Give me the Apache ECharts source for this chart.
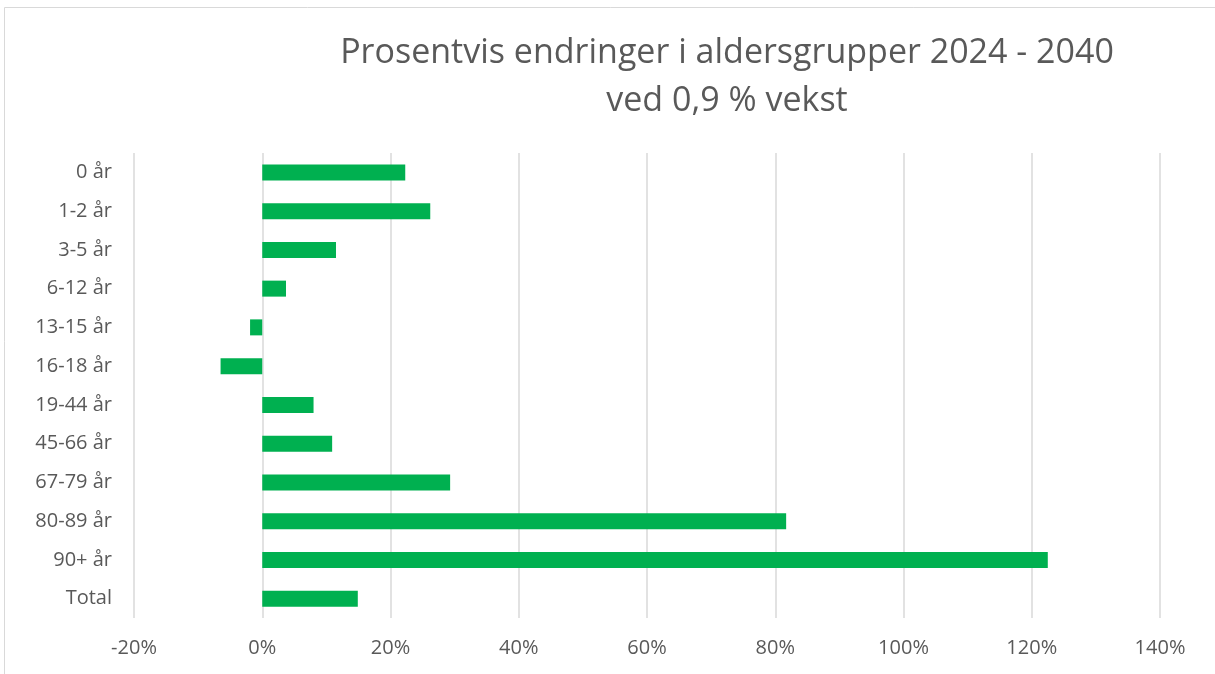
<!DOCTYPE html>
<html>
<head>
<meta charset="utf-8">
<script src="https://cdn.jsdelivr.net/npm/echarts@6/dist/echarts.min.js"></script>
<style>
html,body{margin:0;padding:0;background:#fff;}
#chart{width:1215px;height:674px;}
</style>
</head>
<body>
<div id="chart"></div>
<script>
const categories = ["0 år","1-2 år","3-5 år","6-12 år","13-15 år","16-18 år","19-44 år","45-66 år","67-79 år","80-89 år","90+ år","Total"];
const values = [22.3, 26.2, 11.5, 3.7, -1.9, -6.5, 8.0, 10.9, 29.3, 81.7, 122.5, 14.9];
const titleLines = ["Prosentvis endringer i aldersgrupper 2024 - 2040", "ved 0,9 % vekst"];

const chart = echarts.init(document.getElementById('chart'));
const font = "Open Sans, Noto Sans, sans-serif";
chart.setOption({
  animation: false,
  title: {
    text: titleLines.join("\n"),
    left: 722,
    top: 24,
    textAlign: 'center',
    textStyle: { fontFamily: font, fontSize: 34, fontWeight: 'normal', color: '#595959', lineHeight: 48 }
  },
  graphic: [{
    type: 'rect',
    shape: { x: 4.5, y: 7.5, width: 1300, height: 800 },
    style: { fill: 'none', stroke: '#d9d9d9', lineWidth: 1 },
    silent: true
  }],
  grid: { left: 134, right: 55, top: 153, bottom: 56, containLabel: false },
  xAxis: {
    type: 'value',
    min: -20, max: 140, interval: 20,
    axisLine: { show: false },
    axisTick: { show: false },
    splitLine: { show: true, lineStyle: { color: '#d9d9d9', width: 1.5 } },
    axisLabel: { formatter: '{value}%', color: '#595959', fontSize: 20, fontFamily: font, margin: 20 }
  },
  yAxis: {
    type: 'category',
    data: categories,
    inverse: true,
    axisLine: { show: false },
    axisTick: { show: false },
    axisLabel: { color: '#595959', fontSize: 20, fontFamily: font, margin: 22 }
  },
  series: [{
    type: 'bar',
    data: values,
    barWidth: 16,
    itemStyle: { color: '#00b050' }
  }]
});
</script>
</body>
</html>
